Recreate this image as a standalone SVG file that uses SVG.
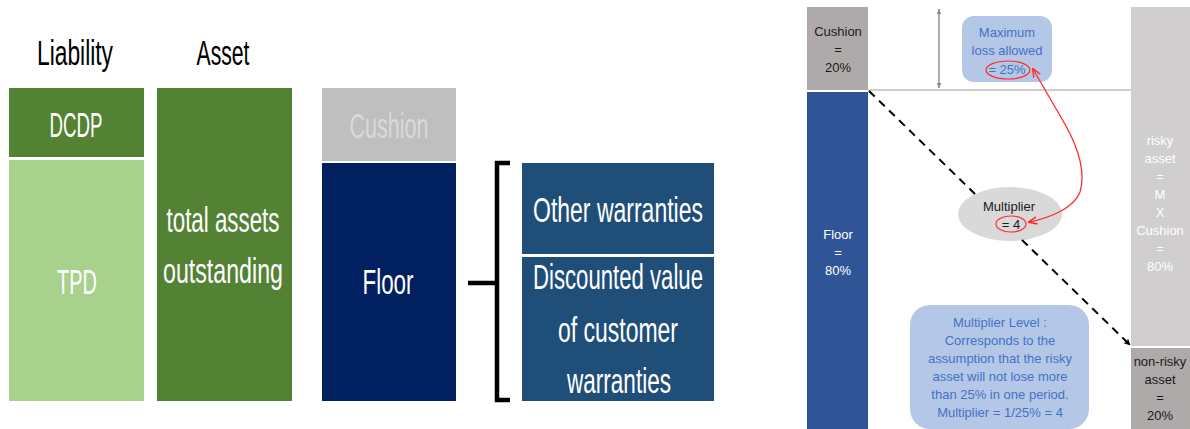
<svg xmlns="http://www.w3.org/2000/svg" width="1190" height="429" viewBox="0 0 1190 429">
  <style>
    .big { font-family: "Liberation Sans", Arial, sans-serif; font-size: 35px; text-anchor: middle; }
    .white { fill: #ffffff; }
    .head { fill: #000000; }
    .sm { font-family: "Liberation Sans", Arial, sans-serif; font-size: 13px; text-anchor: middle; }
    .blk { fill: #1a1a1a; }
    .blu { fill: #4472C4; }
    .wt { fill: #ffffff; }
  </style>
  <defs>
    <marker id="arrBlack" viewBox="0 0 10 10" refX="9" refY="5" markerWidth="7" markerHeight="7" orient="auto" markerUnits="userSpaceOnUse">
      <path d="M0,0 L10,5 L0,10 L3,5 z" fill="#000"/>
    </marker>
    <marker id="arrRed" viewBox="0 0 10 10" refX="9" refY="5" markerWidth="9" markerHeight="9" orient="auto-start-reverse" markerUnits="userSpaceOnUse">
      <path d="M0,1 L10,5 L0,9" fill="none" stroke="#FF2B2B" stroke-width="1.6"/>
    </marker>
    <marker id="arrGray" viewBox="0 0 10 10" refX="9" refY="5" markerWidth="6" markerHeight="6" orient="auto-start-reverse" markerUnits="userSpaceOnUse">
      <path d="M0,1 L10,5 L0,9 z" fill="#8C8C8C"/>
    </marker>
  </defs>

  <rect width="1190" height="429" fill="#ffffff"/>

  <!-- Balance sheet: liability and asset columns -->
  <g id="headers">
    <text class="big head" x="75" y="65" textLength="76" lengthAdjust="spacingAndGlyphs">Liability</text>
    <text class="big head" x="223" y="65" textLength="53" lengthAdjust="spacingAndGlyphs">Asset</text>
  </g>
  <g id="dcdp">
    <rect x="9" y="88" width="135" height="69" fill="#548235"/>
    <text class="big white" x="76" y="137" textLength="53" lengthAdjust="spacingAndGlyphs">DCDP</text>
  </g>
  <g id="tpd">
    <rect x="9" y="160" width="135" height="241" fill="#A9D18E"/>
    <text class="big white" x="77" y="294" textLength="40" lengthAdjust="spacingAndGlyphs">TPD</text>
  </g>
  <g id="total-assets">
    <rect x="157" y="88" width="135" height="313" fill="#548235"/>
    <text class="big white" x="223" y="232" textLength="113" lengthAdjust="spacingAndGlyphs">total assets</text>
    <text class="big white" x="223" y="283" textLength="120" lengthAdjust="spacingAndGlyphs">outstanding</text>
  </g>

  <!-- Cushion / floor split -->
  <g id="cushion">
    <rect x="322" y="88" width="134" height="73" fill="#BFBFBF"/>
    <text class="big" x="389" y="138" fill="#D9D9D9" textLength="79" lengthAdjust="spacingAndGlyphs">Cushion</text>
  </g>
  <g id="floor">
    <rect x="322" y="163" width="134" height="238" fill="#002060"/>
    <text class="big white" x="388" y="294" textLength="51" lengthAdjust="spacingAndGlyphs">Floor</text>
  </g>
  <g id="brace">
    <path d="M510,163 L497,163 L497,400 L510,400 M497,283 L468,283" fill="none" stroke="#000" stroke-width="4.5"/>
  </g>
  <g id="other-warranties">
    <rect x="522" y="163" width="192" height="91" fill="#1F4E79"/>
    <text class="big white" x="618" y="222" textLength="170" lengthAdjust="spacingAndGlyphs">Other warranties</text>
  </g>
  <g id="customer-warranties">
    <rect x="522" y="257" width="192" height="144" fill="#1F4E79"/>
    <text class="big white" x="618" y="289" textLength="170" lengthAdjust="spacingAndGlyphs">Discounted value</text>
    <text class="big white" x="618" y="342" textLength="120" lengthAdjust="spacingAndGlyphs">of customer</text>
    <text class="big white" x="619" y="393" textLength="104" lengthAdjust="spacingAndGlyphs">warranties</text>
  </g>

  <!-- CPPI allocation -->
  <g id="cppi-cushion">
    <rect x="807" y="7" width="61" height="83" fill="#AEAAAA"/>
    <text class="sm blk" x="838" y="36">Cushion</text>
    <text class="sm blk" x="838" y="54">=</text>
    <text class="sm blk" x="838" y="72">20%</text>
  </g>
  <g id="cppi-floor">
    <rect x="807" y="92" width="61" height="337" fill="#2F5597"/>
    <text class="sm wt" x="838" y="239">Floor</text>
    <text class="sm wt" x="838" y="257">=</text>
    <text class="sm wt" x="838" y="275">80%</text>
  </g>
  <g id="risky-asset">
    <rect x="1131" y="7" width="59" height="339" fill="#D0CECE"/>
    <text class="sm wt" x="1160" y="145">risky</text>
    <text class="sm wt" x="1160" y="163">asset</text>
    <text class="sm wt" x="1160" y="181">=</text>
    <text class="sm wt" x="1160" y="199">M</text>
    <text class="sm wt" x="1160" y="217">X</text>
    <text class="sm wt" x="1160" y="235">Cushion</text>
    <text class="sm wt" x="1160" y="253">=</text>
    <text class="sm wt" x="1160" y="271">80%</text>
  </g>
  <g id="non-risky-asset">
    <rect x="1131" y="348" width="59" height="81" fill="#AEAAAA"/>
    <text class="sm blk" x="1160" y="366">non-risky</text>
    <text class="sm blk" x="1160" y="384">asset</text>
    <text class="sm blk" x="1160" y="402">=</text>
    <text class="sm blk" x="1160" y="420">20%</text>
  </g>
  <g id="max-loss">
    <rect x="962" y="16" width="90" height="66" rx="12" fill="#B4C7E7"/>
    <text class="sm blu" x="1007" y="37">Maximum</text>
    <text class="sm blu" x="1007" y="55">loss allowed</text>
    <text class="sm blu" x="1007" y="74">= 25%</text>
    <ellipse cx="1008" cy="70" rx="22" ry="9" fill="none" stroke="#FF2B2B" stroke-width="1.2"/>
  </g>

  <g id="multiplier">
    <ellipse cx="1010" cy="214" rx="52" ry="27" fill="#D9D9D9"/>
    <text class="sm blk" x="1009" y="211">Multiplier</text>
    <text class="sm blk" x="1011" y="229">= 4</text>
    <ellipse cx="1011" cy="224" rx="15" ry="8" fill="none" stroke="#FF2B2B" stroke-width="1.2"/>
  </g>

  <g id="multiplier-level">
    <rect x="910" y="305" width="179" height="124" rx="20" fill="#B4C7E7"/>
    <text class="sm blu" x="1000" y="327">Multiplier Level :</text>
    <text class="sm blu" x="1000" y="345">Corresponds to the</text>
    <text class="sm blu" x="1000" y="363">assumption that the risky</text>
    <text class="sm blu" x="1000" y="381">asset will not lose more</text>
    <text class="sm blu" x="1000" y="399">than 25% in one period.</text>
    <text class="sm blu" x="1000" y="417">Multiplier = 1/25% = 4</text>
  </g>

  <g id="connectors">
    <line x1="868" y1="90" x2="1131" y2="90" stroke="#BFBFBF" stroke-width="1.5"/>
    <line x1="939" y1="9" x2="939" y2="88" stroke="#A6A6A6" stroke-width="1.8" marker-start="url(#arrGray)" marker-end="url(#arrGray)"/>
    <!-- allocation shift, interrupted where it passes behind the multiplier ellipse -->
    <line x1="869" y1="91" x2="975" y2="194" stroke="#000" stroke-width="2" stroke-dasharray="8,6"/>
    <line x1="1022" y1="240" x2="1130" y2="345" stroke="#000" stroke-width="2" stroke-dasharray="8,6" marker-end="url(#arrBlack)"/>
    <path d="M1033,69 L1066,126 C1078,148 1086,172 1080,192 C1074,208 1050,218 1029,222" fill="none" stroke="#FF2B2B" stroke-width="1.3" marker-start="url(#arrRed)" marker-end="url(#arrRed)"/>
  </g>
</svg>
